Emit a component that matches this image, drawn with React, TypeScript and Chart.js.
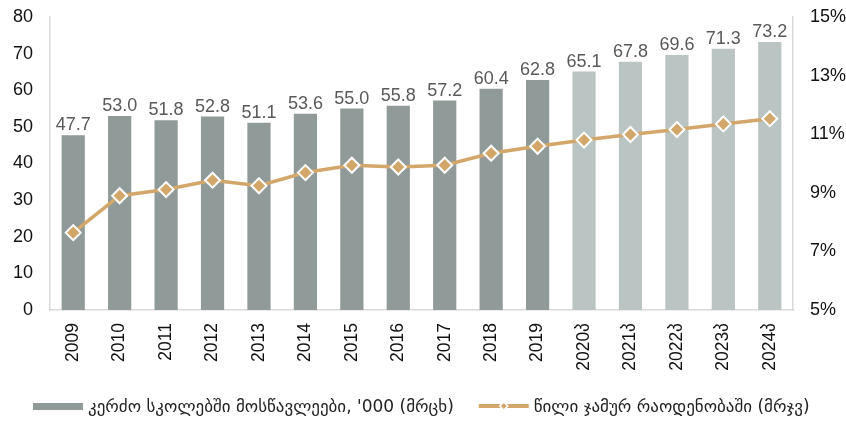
import React, { useEffect, useRef } from "react";
import { Chart, registerables } from "chart.js";

Chart.register(...registerables);

const categories = ["2009", "2010", "2011", "2012", "2013", "2014", "2015", "2016", "2017", "2018", "2019", "2020პ", "2021პ", "2022პ", "2023პ", "2024პ"];
const students = [47.7, 53.0, 51.8, 52.8, 51.1, 53.6, 55.0, 55.8, 57.2, 60.4, 62.8, 65.1, 67.8, 69.6, 71.3, 73.2];
const share = [7.64, 8.9, 9.11, 9.43, 9.24, 9.69, 9.94, 9.88, 9.94, 10.35, 10.59, 10.8, 10.99, 11.16, 11.35, 11.53];
const forecastFrom = 11;
const barLabel = "კერძო სკოლებში მოსწავლეები, '000 (მრცხ)";
const lineLabel = "წილი ჯამურ რაოდენობაში (მრჯვ)";

const DARK = "#8F9A99";
const LIGHT = "#BAC4C2";
const TAN = "#D3A769";
const FONT = "'Liberation Sans', Arial, 'DejaVu Sans', sans-serif";

const valueLabels = {
  id: "valueLabels",
  afterDatasetsDraw(chart: any) {
    const ctx = chart.ctx;
    const meta = chart.getDatasetMeta(1);
    ctx.save();
    ctx.font = `18px ${FONT}`;
    ctx.fillStyle = "#595959";
    ctx.textAlign = "center";
    ctx.textBaseline = "alphabetic";
    meta.data.forEach((el: any, i: number) => {
      ctx.fillText(students[i].toFixed(1), el.x, el.y - 5);
    });
    ctx.restore();
  },
};

const customLegend = {
  id: "customLegend",
  afterDraw(chart: any) {
    const ctx = chart.ctx;
    ctx.save();
    ctx.font = `17px 'DejaVu Sans', ${FONT}`;
    ctx.textBaseline = "alphabetic";
    const swW = 50;
    const gap = 5;
    const itemGap = 25;
    const w1 = ctx.measureText(barLabel).width;
    let x = chart.chartArea.left - 17;
    const cy = chart.height - 17;
    ctx.fillStyle = DARK;
    ctx.fillRect(x, cy - 3, swW, 7);
    x += swW + gap;
    ctx.fillStyle = "#222";
    ctx.fillText(barLabel, x, cy + 6);
    x += w1 + itemGap;
    ctx.strokeStyle = TAN;
    ctx.lineWidth = 4;
    ctx.beginPath();
    ctx.moveTo(x, cy);
    ctx.lineTo(x + swW, cy);
    ctx.stroke();
    const mx = x + swW / 2;
    ctx.fillStyle = TAN;
    ctx.strokeStyle = "#fff";
    ctx.lineWidth = 1.5;
    ctx.beginPath();
    ctx.moveTo(mx, cy - 4);
    ctx.lineTo(mx + 4, cy);
    ctx.lineTo(mx, cy + 4);
    ctx.lineTo(mx - 4, cy);
    ctx.closePath();
    ctx.fill();
    ctx.stroke();
    x += swW + gap;
    ctx.fillStyle = "#222";
    ctx.fillText(lineLabel, x, cy + 6);
    ctx.restore();
  },
};

export default function App() {
  const ref = useRef<HTMLCanvasElement>(null);
  useEffect(() => {
    if (!ref.current) return;
    const chart = new Chart(ref.current, {
      data: {
        labels: categories,
        datasets: [
          {
            type: "line",
            label: lineLabel,
            data: share,
            yAxisID: "y1",
            borderColor: TAN,
            borderWidth: 3.5,
            pointStyle: "rectRot",
            pointRadius: 7.5,
            pointBackgroundColor: TAN,
            pointBorderColor: "#fff",
            pointBorderWidth: 2,
            tension: 0,
            order: 0,
          } as any,
          {
            type: "bar",
            label: barLabel,
            data: students,
            yAxisID: "y",
            backgroundColor: students.map((_, i) => (i >= forecastFrom ? LIGHT : DARK)),
            barPercentage: 0.5,
            categoryPercentage: 1,
            order: 1,
          } as any,
        ],
      },
      options: {
        animation: false,
        responsive: false,
        layout: { padding: { top: 17, bottom: 0, left: 0, right: 0 } },
        plugins: { legend: { display: false }, tooltip: { enabled: false } },
        scales: {
          x: {
            grid: { display: false, drawTicks: false },
            border: { color: "#D9D9D9", width: 1.5 },
            ticks: {
              font: { family: FONT, size: 17.5 },
              color: "#111",
              maxRotation: 90,
              minRotation: 90,
              padding: 13,
              autoSkip: false,
            },
            afterFit(scale: any) {
              scale.height = 113;
              scale.paddingTop = 0;
              scale.paddingBottom = 0;
            },
          },
          y: {
            position: "left",
            min: 0,
            max: 80,
            grid: { display: false, drawTicks: false },
            border: { color: "#D9D9D9", width: 1.5 },
            ticks: { stepSize: 10, font: { family: FONT, size: 18 }, color: "#111", padding: 17 },
            afterFit(scale: any) {
              scale.width = 50;
              scale.paddingTop = 0;
              scale.paddingBottom = 0;
            },
          },
          y1: {
            position: "right",
            min: 5,
            max: 15,
            grid: { display: false, drawTicks: false },
            border: { color: "#D9D9D9", width: 1.5 },
            ticks: {
              stepSize: 2,
              font: { family: FONT, size: 18 },
              color: "#111",
              padding: 17,
              callback: (v: any) => `${v}%`,
            },
            afterFit(scale: any) {
              scale.width = 53;
              scale.paddingTop = 0;
              scale.paddingBottom = 0;
            },
          },
        },
      },
      plugins: [valueLabels, customLegend],
    });
    return () => chart.destroy();
  }, []);
  return (
    <div style={{ position: "fixed", left: 0, top: 0, width: 846, height: 423, background: "#fff" }}>
      <canvas ref={ref} width={846} height={423} />
    </div>
  );
}
